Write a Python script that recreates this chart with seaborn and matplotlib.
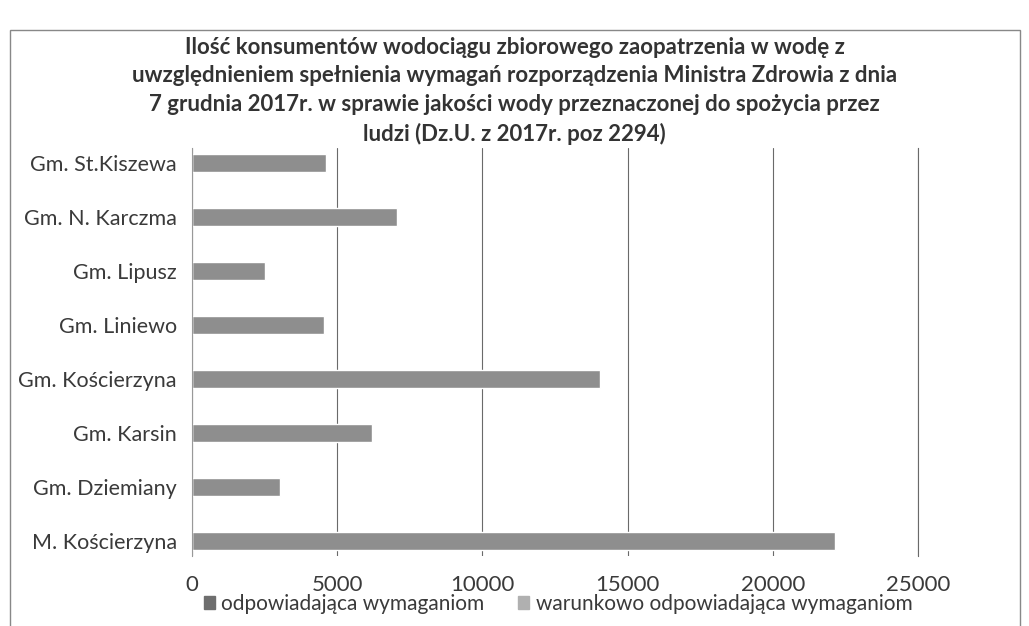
import matplotlib
matplotlib.use("Agg")
import matplotlib.pyplot as plt
import seaborn as sns
import pandas as pd
from matplotlib.patches import Rectangle

categories = ["Gm. St.Kiszewa", "Gm. N. Karczma", "Gm. Lipusz", "Gm. Liniewo",
              "Gm. Kościerzyna", "Gm. Karsin", "Gm. Dziemiany", "M. Kościerzyna"]
odpowiadajaca = [4600, 7050, 2500, 4530, 14050, 6200, 3030, 22150]
warunkowo = [0, 0, 0, 0, 0, 0, 0, 0]
series_names = ["odpowiadająca wymaganiom", "warunkowo odpowiadająca wymaganiom"]
xticks = [0, 5000, 10000, 15000, 20000, 25000]
title = ("Ilość konsumentów wodociągu zbiorowego zaopatrzenia w wodę z\n"
         "uwzględnieniem spełnienia wymagań rozporządzenia Ministra Zdrowia z dnia\n"
         "7 grudnia 2017r. w sprawie jakości wody przeznaczonej do spożycia przez\n"
         "ludzi (Dz.U. z 2017r. poz 2294)")

sns.set_theme(style="white")
plt.rcParams["font.family"] = ["Lato", "DejaVu Sans"]

df = pd.DataFrame({
    "gmina": categories * 2,
    "wartosc": odpowiadajaca + warunkowo,
    "seria": [series_names[0]] * len(categories) + [series_names[1]] * len(categories),
})

fig = plt.figure(figsize=(10.29, 6.26), dpi=100)
ax = fig.add_axes([192 / 1029, 1 - 556 / 626, (918 - 192) / 1029, (556 - 148) / 626])

colors = ["#8e8e8e", "#b8b8b8"]
sns.barplot(data=df, y="gmina", x="wartosc", hue="seria", palette=colors,
            orient="h", ax=ax, width=0.33, dodge=False, legend=False)

ax.set_xlim(0, 25000)
ax.set_ylim(7.28, -0.28)
ax.set_xticks(xticks)
ax.set_xticklabels([str(t) for t in xticks], fontsize=16, color="#3a3a3a")
ax.tick_params(axis="y", labelsize=15.5, labelcolor="#3a3a3a", length=0, pad=11)
ax.tick_params(axis="x", length=0, pad=14)
ax.set_xlabel("")
ax.set_ylabel("")
ax.xaxis.grid(True, color="#6a6a6a", linewidth=0.8)
ax.set_axisbelow(True)
for s in ["top", "bottom"]:
    ax.spines[s].set_visible(False)
ax.spines["left"].set_color("#999999")
ax.spines["left"].set_linewidth(0.8)
ax.spines["right"].set_color("#6a6a6a")
ax.spines["right"].set_linewidth(0.8)

fig.text(0.5, 1 - 91 / 626, title, ha="center", va="center", fontsize=16,
         fontweight="bold", color="#333333", linespacing=1.45)

handles = [Rectangle((0, 0), 1, 1, color="#6e6e6e"), Rectangle((0, 0), 1, 1, color="#b0b0b0")]
fig.legend(handles, series_names, loc="center", bbox_to_anchor=(558 / 1029, 1 - 604 / 626),
           ncol=2, frameon=False, fontsize=15, handlelength=0.55, handleheight=0.55,
           handletextpad=0.3, columnspacing=1.6, labelcolor="#3a3a3a",
           borderpad=0, borderaxespad=0)

# outer chart frame
fig.patches.append(Rectangle((10 / 1029, -0.01), 1010 / 1029, 1 - 30 / 626 + 0.01,
                             transform=fig.transFigure, fill=False,
                             edgecolor="#888888", linewidth=1))

fig.savefig("out.png", dpi=100)
